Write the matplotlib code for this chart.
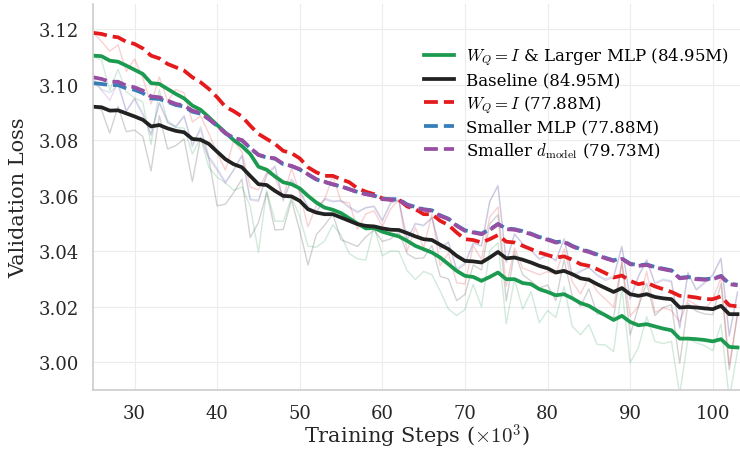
import matplotlib
matplotlib.use("Agg")
import matplotlib.pyplot as plt
import numpy as np

plt.rcParams['font.family'] = 'DejaVu Serif'
plt.rcParams['mathtext.fontset'] = 'cm'

# evaluation steps (x1000)
steps = np.arange(25, 104)

# smoothed validation loss curves
baseline_smooth = [
    3.0920, 3.0918, 3.0906, 3.0907, 3.0896, 3.0885, 3.0873, 3.0849, 3.0854, 3.0842,
    3.0833, 3.0828, 3.0804, 3.0801, 3.0786, 3.0758, 3.0731, 3.0713, 3.0702, 3.0671,
    3.0641, 3.0638, 3.0617, 3.0599, 3.0597, 3.0581, 3.0551, 3.0539, 3.0533, 3.0533,
    3.0521, 3.0509, 3.0497, 3.0491, 3.0489, 3.0482, 3.0477, 3.0476, 3.0465, 3.0453,
    3.0443, 3.0440, 3.0423, 3.0407, 3.0383, 3.0365, 3.0363, 3.0359, 3.0377, 3.0397,
    3.0374, 3.0377, 3.0369, 3.0359, 3.0347, 3.0338, 3.0323, 3.0329, 3.0317, 3.0302,
    3.0297, 3.0281, 3.0267, 3.0253, 3.0267, 3.0245, 3.0239, 3.0245, 3.0235, 3.0230,
    3.0227, 3.0197, 3.0199, 3.0197, 3.0194, 3.0191, 3.0203, 3.0173, 3.0173]
wq_mlp_smooth = [
    3.1104, 3.1102, 3.1086, 3.1082, 3.1068, 3.1053, 3.1038, 3.1005, 3.1002, 3.0984,
    3.0966, 3.0950, 3.0924, 3.0909, 3.0882, 3.0854, 3.0827, 3.0800, 3.0778, 3.0750,
    3.0704, 3.0693, 3.0669, 3.0648, 3.0641, 3.0626, 3.0599, 3.0575, 3.0557, 3.0549,
    3.0537, 3.0518, 3.0499, 3.0482, 3.0483, 3.0470, 3.0461, 3.0453, 3.0437, 3.0419,
    3.0407, 3.0395, 3.0377, 3.0353, 3.0329, 3.0311, 3.0307, 3.0293, 3.0307, 3.0323,
    3.0299, 3.0299, 3.0285, 3.0281, 3.0263, 3.0253, 3.0241, 3.0245, 3.0230, 3.0213,
    3.0203, 3.0185, 3.0169, 3.0152, 3.0167, 3.0145, 3.0133, 3.0137, 3.0129, 3.0121,
    3.0115, 3.0085, 3.0085, 3.0083, 3.0080, 3.0075, 3.0083, 3.0055, 3.0053]
wq_smooth = [
    3.1186, 3.1182, 3.1174, 3.1170, 3.1154, 3.1146, 3.1130, 3.1104, 3.1094, 3.1074,
    3.1062, 3.1050, 3.1026, 3.1008, 3.0984, 3.0954, 3.0920, 3.0904, 3.0885, 3.0852,
    3.0822, 3.0804, 3.0786, 3.0761, 3.0753, 3.0734, 3.0702, 3.0684, 3.0671, 3.0671,
    3.0659, 3.0648, 3.0626, 3.0614, 3.0605, 3.0590, 3.0585, 3.0585, 3.0561, 3.0551,
    3.0533, 3.0533, 3.0509, 3.0494, 3.0467, 3.0443, 3.0440, 3.0431, 3.0443, 3.0458,
    3.0434, 3.0431, 3.0419, 3.0407, 3.0395, 3.0386, 3.0377, 3.0381, 3.0369, 3.0353,
    3.0347, 3.0335, 3.0321, 3.0305, 3.0312, 3.0293, 3.0281, 3.0287, 3.0273, 3.0263,
    3.0253, 3.0239, 3.0237, 3.0233, 3.0227, 3.0227, 3.0237, 3.0205, 3.0201]
small_mlp_smooth = [
    3.1005, 3.1002, 3.0998, 3.0998, 3.0986, 3.0981, 3.0969, 3.0950, 3.0948, 3.0938,
    3.0926, 3.0921, 3.0902, 3.0895, 3.0875, 3.0851, 3.0824, 3.0807, 3.0799, 3.0771,
    3.0746, 3.0737, 3.0733, 3.0713, 3.0706, 3.0694, 3.0676, 3.0658, 3.0649, 3.0640,
    3.0633, 3.0623, 3.0613, 3.0606, 3.0600, 3.0589, 3.0587, 3.0587, 3.0568, 3.0559,
    3.0551, 3.0547, 3.0529, 3.0517, 3.0493, 3.0475, 3.0469, 3.0463, 3.0478, 3.0498,
    3.0481, 3.0479, 3.0472, 3.0463, 3.0451, 3.0443, 3.0433, 3.0435, 3.0419, 3.0407,
    3.0399, 3.0388, 3.0376, 3.0367, 3.0374, 3.0355, 3.0349, 3.0352, 3.0343, 3.0337,
    3.0331, 3.0304, 3.0307, 3.0301, 3.0299, 3.0301, 3.0311, 3.0283, 3.0279]
small_d_smooth = [
    3.1026, 3.1020, 3.1010, 3.1010, 3.0996, 3.0990, 3.0978, 3.0957, 3.0954, 3.0942,
    3.0930, 3.0924, 3.0906, 3.0897, 3.0876, 3.0852, 3.0825, 3.0808, 3.0800, 3.0772,
    3.0747, 3.0738, 3.0734, 3.0714, 3.0707, 3.0695, 3.0677, 3.0659, 3.0650, 3.0641,
    3.0633, 3.0623, 3.0612, 3.0605, 3.0599, 3.0587, 3.0585, 3.0585, 3.0566, 3.0557,
    3.0549, 3.0545, 3.0527, 3.0515, 3.0491, 3.0473, 3.0467, 3.0461, 3.0476, 3.0497,
    3.0479, 3.0477, 3.0470, 3.0461, 3.0449, 3.0441, 3.0431, 3.0433, 3.0417, 3.0405,
    3.0397, 3.0386, 3.0374, 3.0365, 3.0372, 3.0353, 3.0347, 3.0350, 3.0341, 3.0335,
    3.0329, 3.0302, 3.0305, 3.0299, 3.0297, 3.0299, 3.0309, 3.0281, 3.0277]

# raw (unsmoothed) validation loss
baseline_raw = [
    3.0918, 3.0909, 3.0825, 3.0921, 3.0830, 3.0836, 3.0813, 3.0689, 3.0888, 3.0768,
    3.0780, 3.0804, 3.0650, 3.0810, 3.0732, 3.0563, 3.0569, 3.0611, 3.0659, 3.0449,
    3.0503, 3.0611, 3.0476, 3.0478, 3.0584, 3.0474, 3.0350, 3.0459, 3.0493, 3.0533,
    3.0441, 3.0429, 3.0417, 3.0451, 3.0476, 3.0435, 3.0444, 3.0469, 3.0391, 3.0373,
    3.0376, 3.0420, 3.0309, 3.0300, 3.0222, 3.0244, 3.0350, 3.0332, 3.0498, 3.0531,
    3.0220, 3.0397, 3.0315, 3.0292, 3.0267, 3.0278, 3.0222, 3.0369, 3.0237, 3.0201,
    3.0264, 3.0174, 3.0173, 3.0159, 3.0361, 3.0098, 3.0199, 3.0285, 3.0168, 3.0197,
    3.0207, 2.9996, 3.0212, 3.0184, 3.0174, 3.0171, 3.0283, 2.9972, 3.0173]
wq_mlp_raw = [
    3.1100, 3.1089, 3.0979, 3.1055, 3.0974, 3.0952, 3.0937, 3.0784, 3.0982, 3.0863,
    3.0845, 3.0843, 3.0750, 3.0808, 3.0701, 3.0666, 3.0646, 3.0619, 3.0631, 3.0562,
    3.0396, 3.0619, 3.0508, 3.0507, 3.0594, 3.0525, 3.0418, 3.0414, 3.0436, 3.0495,
    3.0457, 3.0391, 3.0372, 3.0368, 3.0490, 3.0383, 3.0401, 3.0399, 3.0330, 3.0298,
    3.0327, 3.0315, 3.0256, 3.0192, 3.0168, 3.0190, 3.0280, 3.0199, 3.0401, 3.0430,
    3.0138, 3.0299, 3.0191, 3.0254, 3.0142, 3.0186, 3.0161, 3.0272, 3.0129, 3.0099,
    3.0136, 3.0064, 3.0062, 3.0038, 3.0268, 2.9998, 3.0053, 3.0164, 3.0075, 3.0067,
    3.0075, 2.9884, 3.0085, 3.0070, 3.0060, 3.0042, 3.0137, 2.9867, 3.0040]
wq_raw = [
    3.1186, 3.1155, 3.1120, 3.1143, 3.1047, 3.1092, 3.1023, 3.0930, 3.1027, 3.0940,
    3.0982, 3.0970, 3.0865, 3.0887, 3.0823, 3.0753, 3.0692, 3.0797, 3.0758, 3.0631,
    3.0621, 3.0683, 3.0665, 3.0593, 3.0699, 3.0607, 3.0488, 3.0563, 3.0584, 3.0671,
    3.0579, 3.0574, 3.0479, 3.0534, 3.0545, 3.0489, 3.0552, 3.0585, 3.0400, 3.0484,
    3.0412, 3.0533, 3.0348, 3.0393, 3.0286, 3.0282, 3.0420, 3.0371, 3.0523, 3.0559,
    3.0273, 3.0411, 3.0339, 3.0327, 3.0315, 3.0326, 3.0317, 3.0408, 3.0289, 3.0246,
    3.0307, 3.0255, 3.0227, 3.0198, 3.0359, 3.0166, 3.0201, 3.0327, 3.0179, 3.0196,
    3.0186, 3.0145, 3.0224, 3.0206, 3.0187, 3.0227, 3.0304, 2.9991, 3.0174]
small_mlp_raw = [
    3.1005, 3.0982, 3.0971, 3.0998, 3.0906, 3.0948, 3.0889, 3.0823, 3.0935, 3.0871,
    3.0846, 3.0888, 3.0775, 3.0848, 3.0741, 3.0698, 3.0650, 3.0690, 3.0742, 3.0588,
    3.0584, 3.0672, 3.0703, 3.0585, 3.0655, 3.0620, 3.0560, 3.0542, 3.0586, 3.0577,
    3.0584, 3.0560, 3.0543, 3.0555, 3.0563, 3.0512, 3.0575, 3.0581, 3.0444, 3.0501,
    3.0490, 3.0522, 3.0411, 3.0430, 3.0336, 3.0357, 3.0431, 3.0417, 3.0580, 3.0633,
    3.0363, 3.0460, 3.0428, 3.0405, 3.0374, 3.0383, 3.0368, 3.0441, 3.0315, 3.0330,
    3.0340, 3.0316, 3.0299, 3.0310, 3.0414, 3.0230, 3.0311, 3.0366, 3.0286, 3.0299,
    3.0293, 3.0126, 3.0320, 3.0263, 3.0288, 3.0316, 3.0371, 3.0098, 3.0254]
small_d_raw = [
    3.1026, 3.0980, 3.0943, 3.1010, 3.0902, 3.0950, 3.0898, 3.0816, 3.0934, 3.0862,
    3.0850, 3.0884, 3.0785, 3.0837, 3.0735, 3.0691, 3.0644, 3.0694, 3.0746, 3.0584,
    3.0579, 3.0678, 3.0707, 3.0580, 3.0660, 3.0615, 3.0556, 3.0538, 3.0590, 3.0581,
    3.0579, 3.0556, 3.0538, 3.0558, 3.0559, 3.0507, 3.0572, 3.0585, 3.0439, 3.0497,
    3.0495, 3.0518, 3.0406, 3.0435, 3.0330, 3.0352, 3.0427, 3.0421, 3.0577, 3.0638,
    3.0358, 3.0464, 3.0423, 3.0401, 3.0369, 3.0387, 3.0364, 3.0446, 3.0310, 3.0325,
    3.0343, 3.0312, 3.0294, 3.0305, 3.0419, 3.0226, 3.0307, 3.0370, 3.0281, 3.0295,
    3.0289, 3.0121, 3.0325, 3.0259, 3.0284, 3.0312, 3.0376, 3.0093, 3.0250]

labels = [
    r'$W_Q = I$ & Larger MLP (84.95M)',
    'Baseline (84.95M)',
    r'$W_Q = I$ (77.88M)',
    'Smaller MLP (77.88M)',
    r'Smaller $d_{\mathrm{model}}$ (79.73M)',
]
colors = ['#1b9a50', '#222222', '#e41a1c', '#377eb8', '#984ea3']
styles = ['-', '-', '--', '--', '--']
smooth = [wq_mlp_smooth, baseline_smooth, wq_smooth, small_mlp_smooth, small_d_smooth]
raw = [wq_mlp_raw, baseline_raw, wq_raw, small_mlp_raw, small_d_raw]

fig = plt.figure(figsize=(7.4, 4.52), dpi=100)
ax = fig.add_axes([0.126, 0.135, 0.874, 0.854])

for r, c in zip(raw, colors):
    ax.plot(steps, r, color=c, lw=1.0, alpha=0.2)
for s, c, ls, lab in zip(smooth, colors, styles, labels):
    ax.plot(steps, s, color=c, lw=2.7, ls=ls, label=lab)

ax.set_xlim(25, 103.3)
ax.set_ylim(2.99, 3.129)
ax.set_xticks(range(30, 101, 10))
ax.set_yticks(np.arange(3.00, 3.121, 0.02))
ax.set_yticklabels([f"{v:.2f}" for v in np.arange(3.00, 3.121, 0.02)])
ax.grid(True, color='#ececec', lw=0.8)
ax.set_axisbelow(True)
for side in ['top', 'right']:
    ax.spines[side].set_visible(False)
for side in ['left', 'bottom']:
    ax.spines[side].set_color('#cccccc')
    ax.spines[side].set_linewidth(1.2)
ax.tick_params(length=0, pad=10, labelsize=13, colors='#262626')

ax.set_xlabel(r'Training Steps ($\times 10^3$)', fontsize=15, color='#262626', labelpad=0)
ax.set_ylabel('Validation Loss', fontsize=15, color='#262626', labelpad=8)

ax.legend(loc='upper right', bbox_to_anchor=(1.008, 0.935), frameon=False, fontsize=12,
          handlelength=1.8, handletextpad=0.7, labelspacing=0.25, borderaxespad=0.6)

fig.savefig("out.png", dpi=100)
